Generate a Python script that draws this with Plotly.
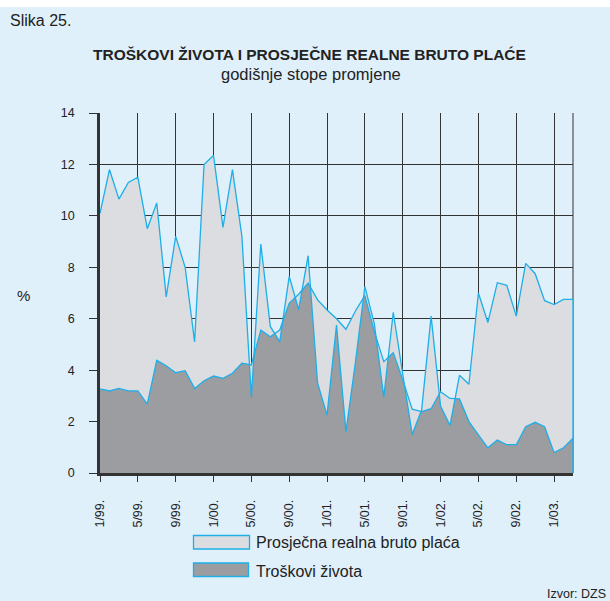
import plotly.graph_objects as go

# ---- data (annual rates of change, %), monthly 1/99 .. 3/03 ----
wage = [10.1, 11.8, 10.65, 11.3, 11.5, 9.5, 10.5, 6.85, 9.2, 8.0,
        5.1, 12.0, 12.35, 9.55, 11.8, 9.2, 2.95, 8.9, 5.7, 5.1,
        7.65, 6.35, 8.45, 3.5, 2.25, 5.75, 1.6, 4.3, 7.25, 5.8,
        2.95, 6.25, 3.85, 1.5, 2.45, 6.1, 2.6, 1.85, 3.8, 3.45,
        7.0, 5.85, 7.4, 7.3, 6.1, 8.15, 7.75, 6.7, 6.55, 6.75, 6.75]
cost = [3.27, 3.19, 3.29, 3.19, 3.19, 2.68, 4.38, 4.17, 3.9, 3.98,
        3.29, 3.59, 3.77, 3.68, 3.88, 4.27, 4.2, 5.56, 5.3, 5.56,
        6.6, 6.95, 7.38, 6.73, 6.34, 6.0, 5.59, 6.3, 6.9, 5.5,
        4.33, 4.68, 3.62, 2.48, 2.39, 2.5, 3.16, 2.9, 2.88, 2.0,
        1.48, 0.98, 1.28, 1.1, 1.1, 1.8, 1.97, 1.8, 0.79, 0.98, 1.35]
month_index = list(range(len(wage)))
tick_months = [0, 4, 8, 12, 16, 20, 24, 28, 32, 36, 40, 44, 48]
tick_labels = ["1/99.", "5/99.", "9/99.", "1/00.", "5/00.", "9/00.", "1/01.",
               "5/01.", "9/01.", "1/02.", "5/02.", "9/02.", "1/03."]
y_ticks = [0, 2, 4, 6, 8, 10, 12, 14]
name_wage = "Prosječna realna bruto plaća"
name_cost = "Troškovi života"

# ---- styles ----
BG = "#dff0fa"
LIGHT = "#dcdde0"
DARK = "#9b9da0"
BLUE = "#1eaee8"
GRID = "#333333"
FONT = "Liberation Sans, Arial, sans-serif"

W, H = 610, 601
L, R, T, B = 100, 573, 113, 473


def fx(px):
    return (px - L) / (R - L)


def fy(py):
    return (B - py) / (B - T)


fig = go.Figure()
# light area under wage
fig.add_trace(go.Scatter(x=month_index, y=wage, mode="lines", fill="tozeroy",
                         fillcolor=LIGHT, line=dict(width=0), showlegend=False,
                         hoverinfo="skip"))
# dark area under cost
fig.add_trace(go.Scatter(x=month_index, y=cost, mode="lines", fill="tozeroy",
                         fillcolor=DARK, line=dict(width=0), showlegend=False,
                         hoverinfo="skip"))
# light band between the two series
fig.add_trace(go.Scatter(x=month_index, y=wage, mode="lines",
                         line=dict(width=0), showlegend=False, hoverinfo="skip"))
fig.add_trace(go.Scatter(x=month_index, y=cost, mode="lines", fill="tonexty",
                         fillcolor=LIGHT, line=dict(width=0), showlegend=False,
                         hoverinfo="skip"))
# outlines
fig.add_trace(go.Scatter(x=month_index, y=wage, mode="lines", name=name_wage,
                         line=dict(color=BLUE, width=1.3), showlegend=False))
fig.add_trace(go.Scatter(x=month_index, y=cost, mode="lines", name=name_cost,
                         line=dict(color=BLUE, width=1.3), showlegend=False))
fig.add_trace(go.Scatter(x=[month_index[-1], month_index[-1]],
                         y=[0, max(wage[-1], cost[-1])], mode="lines",
                         line=dict(color=BLUE, width=1.3), showlegend=False,
                         hoverinfo="skip"))

shapes = [
    # white strip on top of page
    dict(type="rect", xref="paper", yref="paper", x0=fx(0), x1=fx(W),
         y0=fy(0), y1=fy(7), fillcolor="white", line=dict(width=0), layer="below"),
    # right frame line
    dict(type="line", xref="x domain", yref="y domain", x0=1, x1=1, y0=0, y1=1,
         line=dict(color=GRID, width=1), layer="below"),
    # legend swatches
    dict(type="rect", xref="paper", yref="paper", x0=fx(193.5), x1=fx(249.5),
         y0=fy(535.5), y1=fy(549), fillcolor=LIGHT, line=dict(color=BLUE, width=1.3)),
    dict(type="rect", xref="paper", yref="paper", x0=fx(193.5), x1=fx(248.5),
         y0=fy(563), y1=fy(576.5), fillcolor=DARK, line=dict(color=BLUE, width=1.3)),
]

annotations = [
    dict(text="Slika 25.", x=fx(8), y=fy(20), xanchor="left", yanchor="middle",
         font=dict(size=16, color="#222")),
    dict(text="<b>TROŠKOVI ŽIVOTA I PROSJEČNE REALNE BRUTO PLAĆE</b>", x=fx(309),
         y=fy(55), xanchor="center", yanchor="middle", font=dict(size=15.5, color="#222")),
    dict(text="godišnje stope promjene", x=fx(311), y=fy(74), xanchor="center",
         yanchor="middle", font=dict(size=16.5, color="#222")),
    dict(text="%", x=fx(23), y=fy(295), xanchor="center", yanchor="middle",
         font=dict(size=15, color="#222")),
    dict(text=name_wage, x=fx(254), y=fy(542.5), xanchor="left", yanchor="middle",
         font=dict(size=16, color="#222")),
    dict(text=name_cost, x=fx(254), y=fy(571.5), xanchor="left", yanchor="middle",
         font=dict(size=16, color="#222")),
    dict(text="Izvor: DZS", x=fx(608), y=fy(593.5), xanchor="right", yanchor="middle",
         font=dict(size=12.5, color="#222")),
]
for a in annotations:
    a.update(xref="paper", yref="paper", showarrow=False)

fig.update_layout(
    width=W, height=H, autosize=False,
    margin=dict(l=L, r=W - R, t=T, b=H - B, pad=0),
    paper_bgcolor=BG, plot_bgcolor=BG,
    font=dict(family=FONT, color="#222"),
    showlegend=False,
    shapes=shapes, annotations=annotations,
    xaxis=dict(range=[0, month_index[-1]], tickmode="array", tickvals=tick_months,
               ticktext=tick_labels, tickangle=-90, ticks="outside", ticklen=6,
               tickcolor=GRID, tickwidth=1, showgrid=True, gridcolor=GRID, gridwidth=1,
               showline=True, linecolor=GRID, linewidth=2.5, zeroline=False,
               tickfont=dict(size=12.5, color="#222"), ticklabelstandoff=13,
               fixedrange=True),
    yaxis=dict(range=[0, 14], tickmode="array", tickvals=y_ticks, ticks="outside",
               ticklen=8, tickcolor=GRID, tickwidth=1, showgrid=True, gridcolor=GRID,
               gridwidth=1, showline=True, linecolor=GRID, linewidth=2.5,
               zeroline=False, tickfont=dict(size=12.5, color="#222"),
               ticklabelstandoff=12, fixedrange=True),
)

fig.write_html("out.html",
               config={"displayModeBar": False},
               post_script="document.body.style.margin='0';"
                           "document.body.style.overflow='hidden';")
